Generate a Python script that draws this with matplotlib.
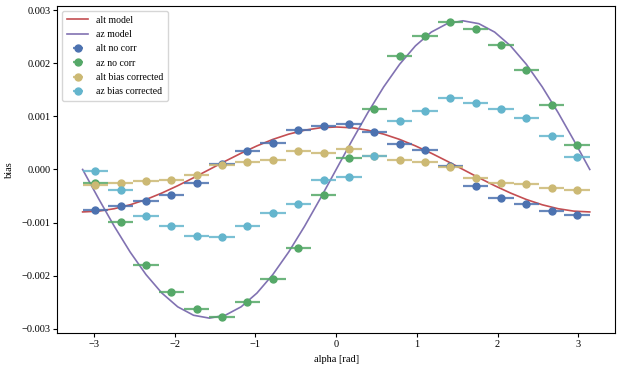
"""
Bias vs alpha: models and binned measurements
"""

import matplotlib

matplotlib.use("Agg")
import matplotlib.pyplot as plt  # type: ignore

plt.rcParams["font.family"] = ["Liberation Serif", "DejaVu Serif"]
plt.rcParams["font.size"] = 7.5
plt.rcParams["axes.unicode_minus"] = True

# model curves
model_alpha = [
    -3.1416, -2.9452, -2.7489, -2.5525, -2.3562, -2.1598, -1.9635, -1.7671,
    -1.5708, -1.3744, -1.1781, -0.9817, -0.7854, -0.5890, -0.3927, -0.1963,
    0.0, 0.1963, 0.3927, 0.5890, 0.7854, 0.9817, 1.1781, 1.3744,
    1.5708, 1.7671, 1.9635, 2.1598, 2.3562, 2.5525, 2.7489, 2.9452, 3.1416,
]
alt_model = [
    -0.000800, -0.000785, -0.000739, -0.000665, -0.000566, -0.000444, -0.000306, -0.000156,
    0.0, 0.000156, 0.000306, 0.000444, 0.000566, 0.000665, 0.000739, 0.000785,
    0.000800, 0.000785, 0.000739, 0.000665, 0.000566, 0.000444, 0.000306, 0.000156,
    0.0, -0.000156, -0.000306, -0.000444, -0.000566, -0.000665, -0.000739, -0.000785, -0.000800,
]
az_model = [
    0.0, -0.000546, -0.001072, -0.001556, -0.001980, -0.002328, -0.002587, -0.002746,
    -0.002800, -0.002746, -0.002587, -0.002328, -0.001980, -0.001556, -0.001072, -0.000546,
    0.0, 0.000546, 0.001072, 0.001556, 0.001980, 0.002328, 0.002587, 0.002746,
    0.002800, 0.002746, 0.002587, 0.002328, 0.001980, 0.001556, 0.001072, 0.000546, 0.0,
]

# binned measurements: 20 bins over [-pi, pi]
bin_centers = [
    -2.985, -2.670, -2.356, -2.042, -1.728, -1.414, -1.100, -0.785, -0.471, -0.157,
    0.157, 0.471, 0.785, 1.100, 1.414, 1.728, 2.042, 2.356, 2.670, 2.985,
]
bin_half_width = 0.157

alt_no_corr = [
    -0.000765, -0.000690, -0.000595, -0.000480, -0.000253, 0.000095, 0.000340, 0.000506, 0.000740, 0.000816,
    0.000850, 0.000702, 0.000487, 0.000360, 0.000070, -0.000320, -0.000530, -0.000645, -0.000780, -0.000854,
]
az_no_corr = [
    -0.000250, -0.000990, -0.001800, -0.002300, -0.002620, -0.002780, -0.002500, -0.002070, -0.001480, -0.000474,
    0.000209, 0.001140, 0.002140, 0.002520, 0.002780, 0.002650, 0.002350, 0.001870, 0.001210, 0.000455,
]
alt_bias_corrected = [
    -0.000285, -0.000253, -0.000215, -0.000196, -0.000100, 0.000076, 0.000146, 0.000184, 0.000340, 0.000316,
    0.000380, 0.000260, 0.000184, 0.000146, 0.000044, -0.000152, -0.000250, -0.000278, -0.000340, -0.000380,
]
az_bias_corrected = [
    -0.000038, -0.000380, -0.000870, -0.001070, -0.001250, -0.001280, -0.001070, -0.000820, -0.000645, -0.000190,
    -0.000133, 0.000260, 0.000910, 0.001100, 0.001340, 0.001250, 0.001140, 0.000970, 0.000630, 0.000228,
]

# old seaborn "deep" colours
colors = {
    "blue": "#4C72B0",
    "green": "#55A868",
    "red": "#C44E52",
    "purple": "#8172B2",
    "yellow": "#CCB974",
    "cyan": "#64B5CD",
}

fig = plt.figure(figsize=(6.22, 3.70), dpi=100)
ax = fig.add_axes([0.092, 0.1, 0.897, 0.884])

ax.plot(model_alpha, alt_model, color=colors["red"], lw=1.2, label="alt model")
ax.plot(model_alpha, az_model, color=colors["purple"], lw=1.2, label="az model")

series = [
    (alt_no_corr, colors["blue"], "alt no corr"),
    (az_no_corr, colors["green"], "az no corr"),
    (alt_bias_corrected, colors["yellow"], "alt bias corrected"),
    (az_bias_corrected, colors["cyan"], "az bias corrected"),
]
for values, color, label in series:
    cont = ax.errorbar(
        bin_centers,
        values,
        xerr=bin_half_width,
        fmt="o",
        color=color,
        markersize=5,
        elinewidth=1.6,
        label=label,
    )
    for bar in cont[2]:
        bar.set_alpha(0.85)

ax.set_xlabel("alpha [rad]", labelpad=4)
ax.set_ylabel("bias", labelpad=5)
ax.set_yticks([-0.003, -0.002, -0.001, 0.0, 0.001, 0.002, 0.003])
ax.set_yticklabels(["\u22120.003", "\u22120.002", "\u22120.001", "0.000", "0.001", "0.002", "0.003"])
ax.set_xticks([-3, -2, -1, 0, 1, 2, 3])
ax.set_xticklabels(["\u22123", "\u22122", "\u22121", "0", "1", "2", "3"])
ax.tick_params(length=3, width=0.8, pad=2)

ax.legend(loc="upper left", fontsize=7, handlelength=2.2, borderpad=0.5, labelspacing=0.55)

fig.savefig("out.png", dpi=100)
